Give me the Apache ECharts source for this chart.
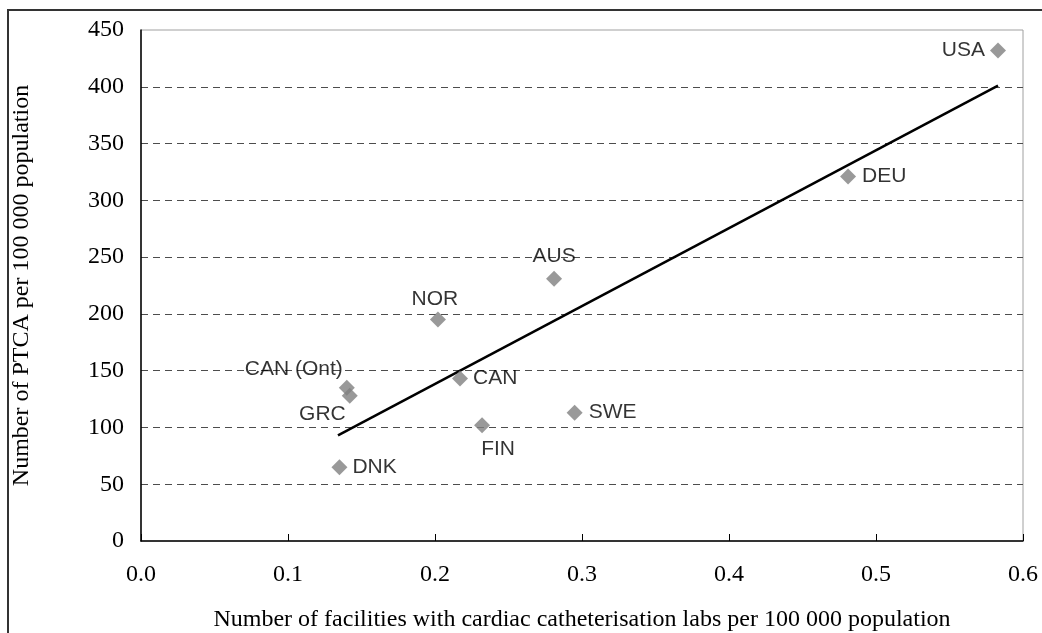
<!DOCTYPE html>
<html>
<head>
<meta charset="utf-8">
<script src="https://cdn.jsdelivr.net/npm/echarts@6/dist/echarts.min.js"></script>
<style>
html,body{margin:0;padding:0;background:#fff;}
#chart{width:1042px;height:633px;}
</style>
</head>
<body>
<div id="chart"></div>
<script>
// ---- data ----
const countries = ['USA', 'DEU', 'AUS', 'NOR', 'CAN (Ont)', 'GRC', 'CAN', 'FIN', 'DNK', 'SWE'];
const facilities = [0.583, 0.481, 0.281, 0.202, 0.140, 0.142, 0.217, 0.232, 0.135, 0.295];
const ptca = [432, 321, 231, 195, 135, 128, 143, 102, 65, 113];
const trendX = [0.134, 0.583];
const trendY = [93, 401];
const xTicks = [0, 0.1, 0.2, 0.3, 0.4, 0.5, 0.6];
const yTicks = [0, 50, 100, 150, 200, 250, 300, 350, 400, 450];

// ---- label placement (style) ----
const labelStyle = {
  'USA': {position: 'left', distance: 5},
  'DEU': {position: 'right', distance: 6},
  'AUS': {position: 'top', distance: 4},
  'NOR': {position: 'top', distance: 2, offset: [-3, 0]},
  'CAN (Ont)': {position: 'left', distance: 5, offset: [9, -18]},
  'GRC': {position: 'left', distance: 5, offset: [9, 19]},
  'CAN': {position: 'right', distance: 5},
  'FIN': {position: 'bottom', distance: 4, offset: [16, 2]},
  'DNK': {position: 'right', distance: 5},
  'SWE': {position: 'right', distance: 6}
};

const pts = countries.map((c, i) => ({
  name: c,
  value: [facilities[i], ptca[i]],
  label: labelStyle[c]
}));
const trend = trendX.map((x, i) => [x, trendY[i]]);

const serif = '"Liberation Serif", "Times New Roman", serif';
const sans = '"Liberation Sans", Arial, sans-serif';

const chart = echarts.init(document.getElementById('chart'), null, {renderer: 'canvas'});
chart.setOption({
  animation: false,
  backgroundColor: '#fff',
  graphic: [{
    type: 'rect',
    shape: {x: 8, y: 10, width: 1100, height: 700},
    style: {fill: 'none', stroke: '#333', lineWidth: 2},
    silent: true, z: -1
  }],
  grid: {
    left: 141, right: 19, top: 30, bottom: 92,
    containLabel: false, outerBoundsMode: 'none',
    show: true, borderColor: '#a0a0a0', borderWidth: 1, backgroundColor: 'transparent'
  },
  xAxis: {
    type: 'value',
    min: xTicks[0], max: xTicks[xTicks.length - 1], interval: 0.1,
    name: 'Number of facilities with cardiac catheterisation labs per 100 000 population',
    nameLocation: 'middle', nameGap: 67,
    nameTextStyle: {fontFamily: serif, fontSize: 24, color: '#000'},
    axisLine: {show: true, lineStyle: {color: '#000', width: 1.5}},
    axisTick: {show: true, inside: true, length: 7, lineStyle: {color: '#000'}},
    axisLabel: {fontFamily: serif, fontSize: 24, color: '#000', margin: 22,
      formatter: v => v.toFixed(1)},
    splitLine: {show: false}
  },
  yAxis: {
    type: 'value',
    min: yTicks[0], max: yTicks[yTicks.length - 1], interval: 50,
    name: 'Number of PTCA per 100 000 population',
    nameLocation: 'middle', nameGap: 107,
    nameTextStyle: {fontFamily: serif, fontSize: 24, color: '#000'},
    axisLine: {show: true, lineStyle: {color: '#000', width: 1.5}},
    axisTick: {show: false},
    axisLabel: {fontFamily: serif, fontSize: 24, color: '#000', margin: 17},
    splitLine: {show: true, showMinLine: false, showMaxLine: false,
      lineStyle: {color: '#4d4d4d', type: [7, 5], width: 1}}
  },
  series: [
    {
      type: 'line',
      data: trend,
      symbol: 'none',
      lineStyle: {color: '#000', width: 2.5},
      silent: true,
      z: 2
    },
    {
      type: 'scatter',
      data: pts,
      symbol: 'diamond',
      symbolSize: 16,
      itemStyle: {color: '#808080'},
      label: {
        show: true,
        formatter: p => p.name,
        fontFamily: sans, fontSize: 21, color: '#000'
      },
      z: 3
    }
  ]
});
</script>
</body>
</html>
